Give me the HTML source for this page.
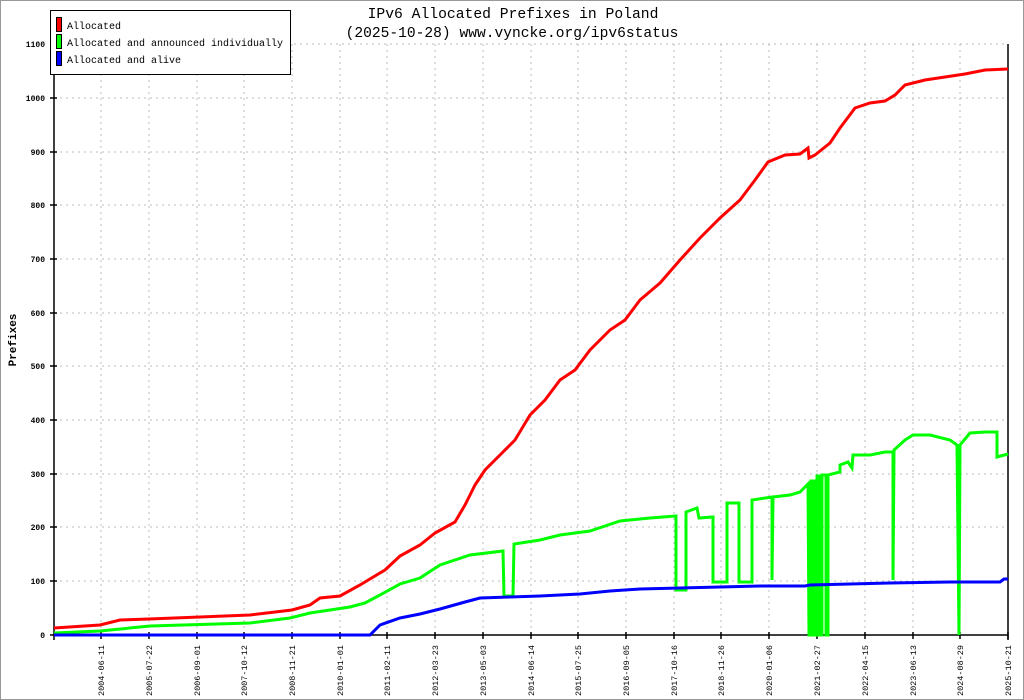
<!DOCTYPE html><html><head><style>body{margin:0;background:#fff}svg{display:block}</style></head><body>
<svg width="1024" height="700" xmlns="http://www.w3.org/2000/svg" font-family="Liberation Mono, monospace">
<rect x="0.5" y="0.5" width="1023" height="699" fill="#fff" stroke="#999"/>
<text x="513" y="18" text-anchor="middle" font-size="14.7">IPv6 Allocated Prefixes in Poland</text>
<text x="512" y="37" text-anchor="middle" font-size="14.6">(2025-10-28) www.vyncke.org/ipv6status</text>
<g stroke="#bbb" stroke-dasharray="2,4" stroke-width="1">
<path d="M54 581H1008M54 527H1008M54 474H1008M54 420H1008M54 366H1008M54 313H1008M54 259H1008M54 205H1008M54 152H1008M54 98H1008M54 44H1008"/>
<path d="M101 44V635M149 44V635M197 44V635M244 44V635M292 44V635M340 44V635M387 44V635M435 44V635M483 44V635M531 44V635M578 44V635M626 44V635M674 44V635M721 44V635M769 44V635M817 44V635M865 44V635M913 44V635M960 44V635"/>
</g>
<g stroke="#000" stroke-width="1.5" fill="none">
<path d="M54 44V640M54 635H1008M1008 44V640"/>
<path d="M50 635H57M50 581H57M50 527H57M50 474H57M50 420H57M50 366H57M50 313H57M50 259H57M50 205H57M50 152H57M50 98H57M50 44H57"/>
<path d="M101 632V639M149 632V639M197 632V639M244 632V639M292 632V639M340 632V639M387 632V639M435 632V639M483 632V639M531 632V639M578 632V639M626 632V639M674 632V639M721 632V639M769 632V639M817 632V639M865 632V639M913 632V639M960 632V639M1008 632V639"/>
</g>
<g font-size="8" font-weight="bold" text-anchor="end">
<text x="45" y="638">0</text><text x="45" y="584">100</text><text x="45" y="530">200</text><text x="45" y="477">300</text><text x="45" y="423">400</text><text x="45" y="369">500</text><text x="45" y="316">600</text><text x="45" y="262">700</text><text x="45" y="208">800</text><text x="45" y="155">900</text><text x="45" y="101">1000</text><text x="45" y="47">1100</text>
</g>
<text transform="translate(16,340) rotate(-90)" text-anchor="middle" font-size="11" font-weight="bold">Prefixes</text>
<g font-size="8.5" text-anchor="end">
<text transform="translate(104,645) rotate(-90)">2004-06-11</text>
<text transform="translate(152,645) rotate(-90)">2005-07-22</text>
<text transform="translate(200,645) rotate(-90)">2006-09-01</text>
<text transform="translate(247,645) rotate(-90)">2007-10-12</text>
<text transform="translate(295,645) rotate(-90)">2008-11-21</text>
<text transform="translate(343,645) rotate(-90)">2010-01-01</text>
<text transform="translate(390,645) rotate(-90)">2011-02-11</text>
<text transform="translate(438,645) rotate(-90)">2012-03-23</text>
<text transform="translate(486,645) rotate(-90)">2013-05-03</text>
<text transform="translate(534,645) rotate(-90)">2014-06-14</text>
<text transform="translate(581,645) rotate(-90)">2015-07-25</text>
<text transform="translate(629,645) rotate(-90)">2016-09-05</text>
<text transform="translate(677,645) rotate(-90)">2017-10-16</text>
<text transform="translate(724,645) rotate(-90)">2018-11-26</text>
<text transform="translate(772,645) rotate(-90)">2020-01-06</text>
<text transform="translate(820,645) rotate(-90)">2021-02-27</text>
<text transform="translate(868,645) rotate(-90)">2022-04-15</text>
<text transform="translate(916,645) rotate(-90)">2023-06-13</text>
<text transform="translate(963,645) rotate(-90)">2024-08-29</text>
<text transform="translate(1011,645) rotate(-90)">2025-10-21</text>
</g>
<g fill="none" stroke-width="3" stroke-linejoin="miter">
<polyline stroke="#00ff00" points="54,633 100,631 150,626 250,623 290,618 310,613 330,610 350,607 365,603 380,595 400,584 420,578 440,565 470,555 503,551 504,596 513,596 514,544 540,540 560,535 590,531 620,521 650,518 676,516 676,590 686,590 686,512 697,508 699,518 713,517 713,582 727,582 727,503 739,503 739,582 752,582 752,500 772,497 772,580 773,497 790,495 800,492 808,484 809,635 811,635 811,481 814,481 814,635 817,635 817,476 820,476 820,635 822,635 822,475 826,475 826,635 828,635 828,475 840,472 840,465 848,462 852,468 853,455 870,455 885,452 893,452 893,580 894,450 905,440 913,435 930,435 950,440 957,445 959,635 960,445 970,433 985,432 997,432 997,457 1008,454"/>
<polyline stroke="#0000ff" points="54,635 370,635 380,625 400,618 420,614 440,609 465,602 480,598 510,597 540,596 580,594 610,591 640,589 680,588 720,587 760,586 805,586 810,585 850,584 890,583 950,582 1000,582 1004,579 1008,579"/>
<polyline stroke="#ff0000" points="54,628 100,625 120,620 149,619 200,617 250,615 292,610 310,605 320,598 340,596 360,585 385,570 400,556 420,545 435,533 455,522 465,505 475,485 485,470 500,455 515,440 530,415 545,400 560,380 575,370 590,350 610,330 625,320 640,300 660,283 680,260 700,238 720,218 740,200 755,180 768,162 785,155 800,154 808,148 809,158 815,155 830,143 840,128 855,108 870,103 885,101 895,95 905,85 925,80 945,77 965,74 985,70 1008,69"/>
</g>
<rect x="50.5" y="10.5" width="240" height="64" fill="#fff" stroke="#000"/>
<g stroke="#000" stroke-width="1"><rect x="56.5" y="17.5" width="5" height="14" fill="#f00"/><rect x="56.5" y="34.5" width="5" height="14" fill="#0f0"/><rect x="56.5" y="51.5" width="5" height="14" fill="#00f"/></g>
<g font-size="10"><text x="67" y="29">Allocated</text><text x="67" y="46">Allocated and announced individually</text><text x="67" y="63">Allocated and alive</text></g>
</svg></body></html>
